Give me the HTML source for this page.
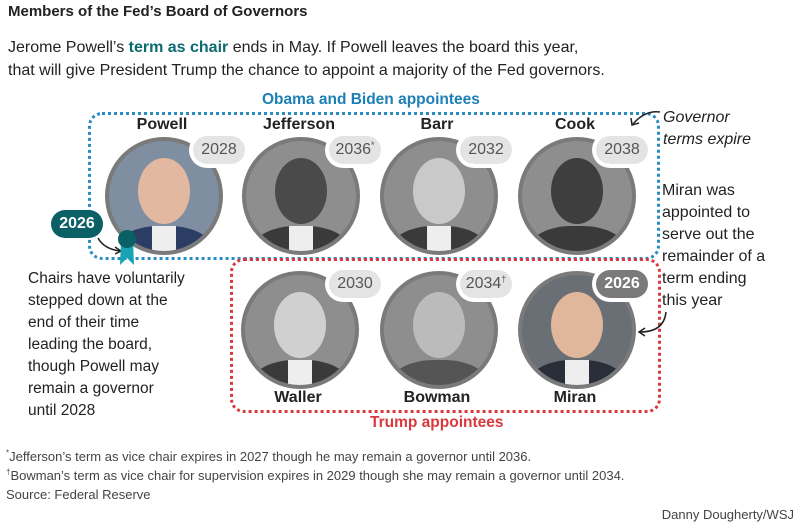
<!DOCTYPE html>
<html><head><meta charset="utf-8"><style>
body{margin:0;width:806px;height:528px;background:#fff;font-family:"Liberation Sans",sans-serif;color:#222;position:relative;overflow:hidden}
.a{position:absolute;white-space:nowrap}
.n{font-weight:bold;font-size:16px;color:#222;text-align:center;width:120px}
.p{position:absolute;background:#e4e4e4;border-radius:14px;color:#555;font-size:16px;text-align:center;line-height:28px;height:28px;width:52px;box-shadow:0 0 0 4px #fff}
.p sup{font-size:9px;line-height:0;vertical-align:6px}
.c{position:absolute;width:110px;height:110px;border-radius:50%;border:4px solid #7a7a7a;overflow:hidden;background:#8e8e8e}
.h{position:absolute;left:29px;top:17px;width:52px;height:66px;border-radius:50%;background:#c9c9c9}
.b{position:absolute;left:7px;top:85px;width:96px;height:50px;border-radius:45% 45% 0 0;background:#3a3a3a}
.s{position:absolute;left:43px;top:85px;width:24px;height:30px;background:#eee}
.t{font-size:15.5px;line-height:22px;color:#222}
</style></head><body>
<div class="a" style="left:8px;top:3px;font-weight:bold;font-size:15px">Members of the Fed’s Board of Governors</div>
<div class="a" style="left:8px;top:36px;font-size:16px;line-height:23px">Jerome Powell’s <b style="color:#0b6b70">term as chair</b> ends in May. If Powell leaves the board this year,<br>that will give President Trump the chance to appoint a majority of the Fed governors.</div>
<div class="a" style="left:262px;top:91px;font-weight:bold;font-size:15.5px;color:#1c7fb5">Obama and Biden appointees</div>
<div class="a" style="left:88px;top:112px;width:566px;height:142px;border:3px dotted #2a8cc4;border-radius:14px"></div>
<div class="a" style="left:230px;top:258px;width:425px;height:149px;border:3px dotted #d9393e;border-radius:14px"></div>
<div class="a" style="left:370px;top:414px;font-weight:bold;font-size:15.5px;color:#d9393e">Trump appointees</div>

<div class="a n" style="left:102px;top:116px">Powell</div>
<div class="a n" style="left:239px;top:116px">Jefferson</div>
<div class="a n" style="left:377px;top:116px">Barr</div>
<div class="a n" style="left:515px;top:116px">Cook</div>
<div class="a n" style="left:238px;top:389px">Waller</div>
<div class="a n" style="left:377px;top:389px">Bowman</div>
<div class="a n" style="left:515px;top:389px">Miran</div>

<div class="c" style="left:105px;top:137px;background:#7f8ea0"><div class="h" style="background:#e2b9a0"></div><div class="b" style="background:#2b3d63"></div><div class="s"></div></div>
<div class="c" style="left:242px;top:137px"><div class="h" style="background:#4a4a4a"></div><div class="b"></div><div class="s"></div></div>
<div class="c" style="left:380px;top:137px"><div class="h"></div><div class="b"></div><div class="s"></div></div>
<div class="c" style="left:518px;top:137px"><div class="h" style="background:#3e3e3e"></div><div class="b"></div></div>
<div class="c" style="left:241px;top:271px"><div class="h" style="background:#d0d0d0"></div><div class="b"></div><div class="s"></div></div>
<div class="c" style="left:380px;top:271px"><div class="h" style="background:#bbb"></div><div class="b" style="background:#555"></div></div>
<div class="c" style="left:518px;top:271px;background:#6a6e75"><div class="h" style="background:#e0b79b"></div><div class="b" style="background:#2a2e38"></div><div class="s"></div></div>

<div class="p" style="left:193px;top:136px">2028</div>
<div class="p" style="left:329px;top:136px">2036<sup>*</sup></div>
<div class="p" style="left:460px;top:136px">2032</div>
<div class="p" style="left:596px;top:136px">2038</div>
<div class="p" style="left:329px;top:270px">2030</div>
<div class="p" style="left:460px;top:270px">2034<sup>†</sup></div>
<div class="p" style="left:596px;top:270px;background:#7a7a7a;color:#fff;font-weight:bold">2026</div>

<div class="a" style="left:51px;top:210px;width:52px;height:28px;border-radius:14px;background:#0b5f66;color:#fff;font-weight:bold;font-size:16px;text-align:center;line-height:28px">2026</div>
<svg class="a" style="left:90px;top:225px" width="60" height="50">
<path d="M8 13 Q14 24 30 26" fill="none" stroke="#222" stroke-width="1.5"/><path d="M25 22 L31 26 L25 29" fill="none" stroke="#222" stroke-width="1.5"/>
<path d="M31 16 L30 40 L37 33 L44 40 L43 16Z" fill="#1aa3b5"/><circle cx="37" cy="14" r="9" fill="#0b5f66"/></svg>
<div class="a t" style="left:28px;top:268px">Chairs have voluntarily<br>stepped down at the<br>end of their time<br>leading the board,<br>though Powell may<br>remain a governor<br>until 2028</div>

<div class="a t" style="left:663px;top:107px;font-style:italic;font-size:16px">Governor<br>terms expire</div>
<svg class="a" style="left:625px;top:108px" width="40" height="24"><path d="M35 4 Q20 2 8 16" fill="none" stroke="#222" stroke-width="1.5"/><path d="M6 10 L7 17 L14 15" fill="none" stroke="#222" stroke-width="1.5"/></svg>
<div class="a t" style="left:662px;top:180px;font-size:16px">Miran was<br>appointed to<br>serve out the<br>remainder of a<br>term ending<br>this year</div>
<svg class="a" style="left:630px;top:310px" width="40" height="30"><path d="M36 2 Q34 22 10 22" fill="none" stroke="#222" stroke-width="1.5"/><path d="M15 18 L9 22 L15 26" fill="none" stroke="#222" stroke-width="1.5"/></svg>

<div class="a" style="left:6px;top:447px;font-size:13px;line-height:19px;color:#444"><sup style="font-size:8px;line-height:0">*</sup>Jefferson’s term as vice chair expires in 2027 though he may remain a governor until 2036.<br><sup style="font-size:8px;line-height:0">†</sup>Bowman’s term as vice chair for supervision expires in 2029 though she may remain a governor until 2034.<br>Source: Federal Reserve</div>
<div class="a" style="right:12px;top:507px;font-size:13px;color:#444">Danny Dougherty/WSJ</div>
</body></html>
